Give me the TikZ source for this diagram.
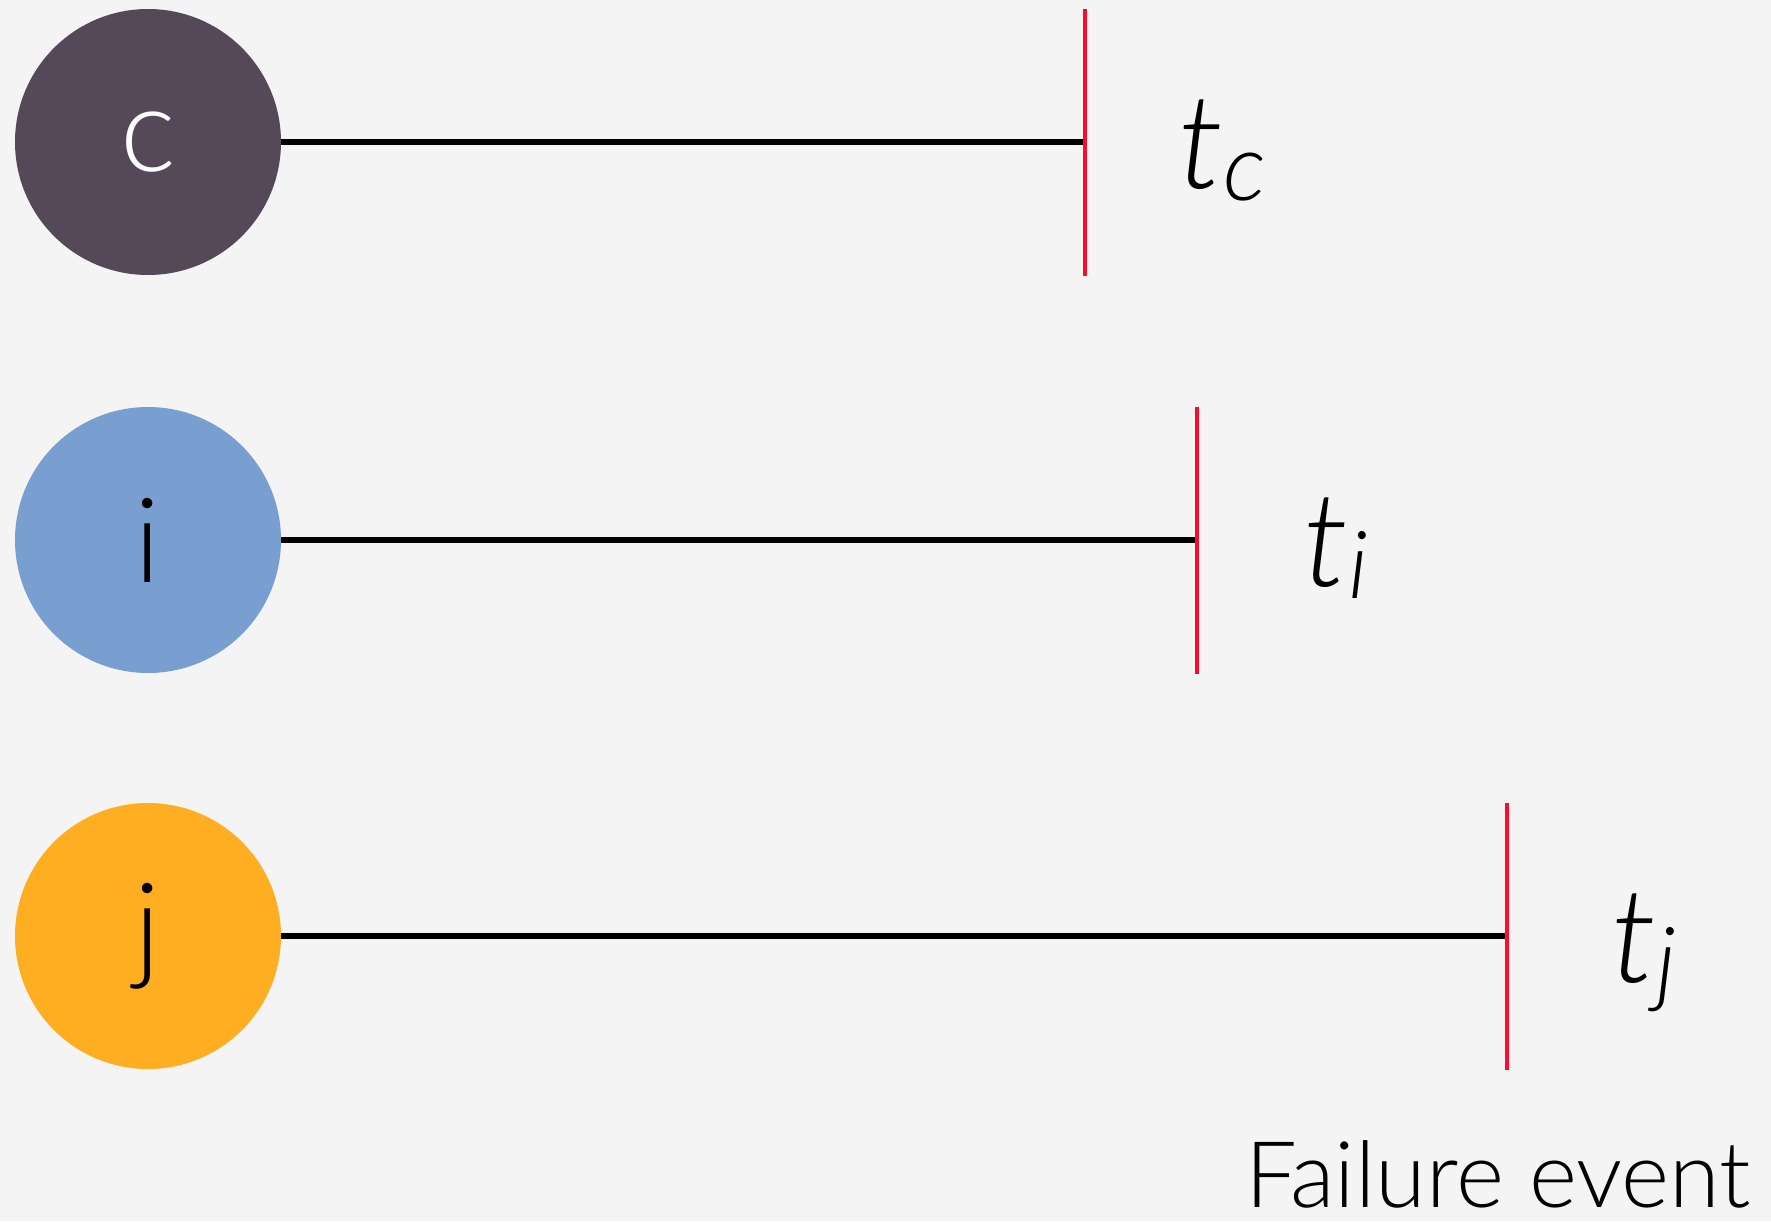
\documentclass[tikz,border=0pt]{standalone}
\usepackage{fontspec}
\setmainfont{Lato Light}[ItalicFont={Lato Light Italic}]
\usetikzlibrary{positioning}

\definecolor{bgc}{HTML}{F4F4F4}
\definecolor{cpurple}{HTML}{554859}
\definecolor{iblue}{HTML}{789FD0}
\definecolor{jorange}{HTML}{FFAE22}
\definecolor{failred}{HTML}{FF0A2A}

\newcommand{\tlab}[1]{\fontsize{66}{66}\selectfont\itshape t\raisebox{-6pt}{\fontsize{47}{47}\selectfont #1}}

\begin{document}
\begin{tikzpicture}[x=0.5pt,y=-0.5pt,
 agent/.style={circle,inner sep=0pt,minimum size=133pt,font=\fontsize{59}{59}\selectfont},
 fail/.style={fill=failred,inner sep=0pt,minimum width=2pt,minimum height=133.5pt},
 life/.style={line width=3pt},
 tlabel/.style={anchor=base west,inner sep=0pt}]
\fill[bgc] (0,0) rectangle (1771,1221);
% agents
\node[agent,fill=cpurple,text=white] (c) at (148,142) {c};
\node[agent,fill=iblue] (i) at (148,540) {i};
\node[agent,fill=jorange] (j) at (148,936) {j};
% failure times
\node[fail] (fc) at (1085,142) {};
\node[fail] (fi) at (1197,540) {};
\node[fail] (fj) at (1507,936) {};
\draw[life] (c) -- (fc);
\draw[life] (i) -- (fi);
\draw[life] (j) -- (fj);
\node[tlabel] (tc) at (1178,188) {\tlab{c}};
\node[tlabel] (ti) at (1303,586) {\tlab{i}};
\node[tlabel] (tj) at (1611,982) {\tlab{j}};
\node[anchor=base east,inner sep=0pt,font=\fontsize{46}{46}\selectfont] (fe) at (1751,1207) {Failure event};
\end{tikzpicture}
\end{document}
